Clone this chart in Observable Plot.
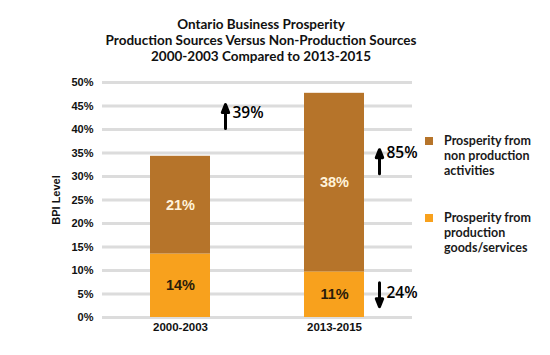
<!DOCTYPE html>
<html>
<head>
<meta charset="utf-8">
<script src="https://cdn.jsdelivr.net/npm/d3@7"></script>
<script src="https://cdn.jsdelivr.net/npm/@observablehq/plot@0.6"></script>
<style>
  html, body { margin: 0; padding: 0; background: #fff; }
  #wrap { position: relative; width: 550px; height: 355px; overflow: hidden; }
  #title { box-sizing: border-box; height: 66px; padding-top: 16px; padding-right: 28px; text-align: center;
    font-family: Lato, "Noto Sans", sans-serif; font-weight: 700; font-size: 13.5px; line-height: 16px; color: #111; }
  #legend { position: absolute; left: 425px; top: 0; font-family: Lato, "Noto Sans", sans-serif;
    font-weight: 700; font-size: 12.5px; line-height: 15px; color: #1a1a1a; }
  .item { position: absolute; left: 0; white-space: nowrap; }
  .sw { position: absolute; left: 0; width: 8px; height: 8px; }
  .lbl { position: absolute; left: 19px; }
  #chart svg { display: block; }
</style>
</head>
<body>
<div id="wrap">
  <div id="title">Ontario Business Prosperity<br>Production Sources Versus Non-Production Sources<br>2000-2003 Compared to 2013-2015</div>
  <div id="chart"></div>
  <div id="legend"></div>
</div>
<script>
// ---- data ----
const periods = ["2000-2003", "2013-2015"];
const production = [13.5, 9.7];          // bar segment heights (%)
const nonProduction = [20.8, 38.0];
const productionLabels = ["14%", "11%"];
const nonProductionLabels = ["21%", "38%"];
const sources = ["production", "non"];
const sourceNames = ["Prosperity from\nproduction\ngoods/services", "Prosperity from\nnon production\nactivities"];
const sourceColors = ["#F8A11D", "#B6742A"];
const yTicks = [0, 5, 10, 15, 20, 25, 30, 35, 40, 45, 50];
const changeTexts = ["39%", "85%", "24%"];
const changePeriods = ["2000-2003", "2013-2015", "2013-2015"];
const changeY = [43.6, 34.9, 5.1];       // vertical position of change label (%)
const arrowTail = [40.2, 30.6, 7.4];     // arrow tail (%)
const arrowUp = [true, true, false];

// ---- tables ----
const rows = periods.flatMap((p, i) => [
  {period: p, source: "production", value: production[i], label: productionLabels[i]},
  {period: p, source: "non", value: nonProduction[i], label: nonProductionLabels[i]}
]);
const changes = changeTexts.map((t, i) => ({text: t, period: changePeriods[i], y: changeY[i], tail: arrowTail[i], up: arrowUp[i]}));

const arrowShape = {
  draw(ctx, l) {
    ctx.moveTo(0, 0);
    ctx.lineTo(0, -l + 8);
    ctx.moveTo(-3.2, -l + 9);
    ctx.lineTo(0, -l + 1);
    ctx.lineTo(3.2, -l + 9);
    ctx.closePath();
  }
};

const font = "'Liberation Sans', Arial, sans-serif";

const chart = Plot.plot({
  width: 550,
  height: 289,
  marginTop: 16,
  marginBottom: 38,
  marginLeft: 102,
  marginRight: 138,
  style: {fontFamily: font, background: "#fff", color: "#111"},
  x: {domain: periods, paddingInner: 0.61, paddingOuter: 0.31},
  y: {domain: [0, 50]},
  color: {domain: sources, range: sourceColors},
  marks: [
    Plot.ruleY(yTicks, {stroke: "#dcdcdc", strokeWidth: 3}),
    Plot.barY(rows, Plot.stackY({x: "period", y: "value", z: "source", fill: "source", order: sources})),
    Plot.text(rows, Plot.stackY({x: "period", y: "value", z: "source", order: sources,
      text: d => d.source === "non" ? d.label : null, fill: "#FFF3DA", fontSize: 14.5, fontWeight: "bold"})),
    Plot.text(rows, Plot.stackY({x: "period", y: "value", z: "source", order: sources,
      text: d => d.source === "production" ? d.label : null, fill: "#2a1c0a", fontSize: 14.5, fontWeight: "bold"})),
    Plot.axisY({ticks: yTicks, tickFormat: d => d + "%", tickSize: 0, tickPadding: 9, fontSize: 11, fontWeight: "bold",
      label: "BPI Level", labelAnchor: "center", labelArrow: "none", labelOffset: 50}),
    Plot.axisX({tickSize: 0, tickPadding: 5, fontSize: 11.5, fontWeight: "bold", label: null}),
    Plot.vector(changes, {x: "period", y: "tail", rotate: d => d.up ? 0 : 180, length: 25, anchor: "start",
      shape: arrowShape, stroke: "#000", fill: "#000", strokeWidth: 3, dx: 45}),
    Plot.text(changes, {x: "period", y: "y", text: "text", dx: 52, textAnchor: "start",
      fontFamily: "'Open Sans', Lato, sans-serif", fontWeight: 600, fontSize: 15.5, fill: "#000"})
  ]
});
document.getElementById("chart").appendChild(chart);

// ---- legend (HTML) ----
const legendTops = [209.5, 132.5];
const legend = document.getElementById("legend");
sources.forEach((s, i) => {
  const item = document.createElement("div");
  item.className = "item";
  item.style.top = legendTops[i] + "px";
  const sw = document.createElement("div");
  sw.className = "sw";
  sw.style.background = sourceColors[i];
  sw.style.top = "4px";
  const lbl = document.createElement("div");
  lbl.className = "lbl";
  lbl.innerHTML = sourceNames[i].split("\n").join("<br>");
  item.appendChild(sw);
  item.appendChild(lbl);
  legend.appendChild(item);
});
</script>
</body>
</html>
